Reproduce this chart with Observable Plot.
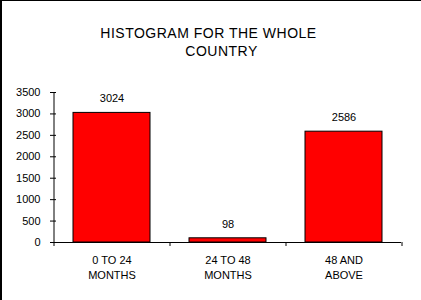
<!DOCTYPE html>
<html>
<head>
<meta charset="utf-8">
<script src="https://cdn.jsdelivr.net/npm/d3@7"></script>
<script src="https://cdn.jsdelivr.net/npm/@observablehq/plot@0.6"></script>
<style>
  html, body { margin: 0; padding: 0; background: #fff; }
  #wrap { position: relative; width: 421px; height: 300px; overflow: hidden; font-family: "Liberation Sans", Arial, sans-serif; }
  .title { position: absolute; transform: translate(-50%, -50%); font-size: 14px; letter-spacing: 0.5px; white-space: nowrap; color: #000; }
  #border { position: absolute; left: 0; top: 0; width: 421px; height: 300px; box-sizing: border-box; border-left: 2px solid #000; border-top: 1px solid #000; pointer-events: none; }
  svg { display: block; }
</style>
</head>
<body>
<div id="wrap">
  <div class="title" style="left:208.5px; top:33px;">HISTOGRAM FOR THE WHOLE</div>
  <div class="title" style="left:221.5px; top:51px;">COUNTRY</div>
  <div id="chart"></div>
  <div id="border"></div>
</div>
<script>
const categories = ["0 TO 24\nMONTHS", "24 TO 48\nMONTHS", "48 AND\nABOVE"];
const counts = [3024, 98, 2586];
const yTicks = [0, 500, 1000, 1500, 2000, 2500, 3000, 3500];

const data = categories.map((c, i) => ({category: c, count: counts[i]}));

const width = 421, height = 300;
const marginLeft = 53, marginRight = 20, marginTop = 92, marginBottom = 58;
const step = (width - marginLeft - marginRight) / categories.length;
const pad = 0.337;

const chart = Plot.plot({
  width, height, marginLeft, marginRight, marginTop, marginBottom,
  style: {fontFamily: "'Liberation Sans', Arial, sans-serif", fontSize: "11px", color: "#000", background: "transparent"},
  x: {domain: categories, paddingInner: pad, paddingOuter: pad / 2, axis: null, label: null},
  y: {domain: [0, 3500], axis: null, label: null},
  marks: [
    Plot.barY(data, {x: "category", y: "count", fill: "#ff0000", stroke: "#000", strokeWidth: 1}),
    // y axis line
    Plot.ruleX([categories[0]], {x: d => d, dx: -step / 2, y1: 0, y2: 3500, stroke: "#000"}),
    // x axis line
    Plot.ruleY([0], {stroke: "#000"}),
    // y ticks crossing the axis
    Plot.axisY({ticks: yTicks, tickSize: 6, dx: 3, text: null, label: null, stroke: "#000", strokeOpacity: 1}),
    // y tick labels
    Plot.axisY({ticks: yTicks, tickSize: 0, tickPadding: 13, label: null, tickFormat: d => String(d), fill: "#000", fontSize: 11}),
    // x boundary ticks
    Plot.axisX({ticks: categories, tickSize: 4, dx: -step / 2, text: null, label: null, stroke: "#000", strokeOpacity: 1}),
    Plot.axisX({ticks: [categories[categories.length - 1]], tickSize: 4, dx: step / 2, text: null, label: null, stroke: "#000", strokeOpacity: 1}),
    // x labels
    Plot.axisX({ticks: categories, tickSize: 0, tickPadding: 11, label: null, lineHeight: 1.36, fill: "#000", fontSize: 11}),
    // value labels
    Plot.text(data, {x: "category", y: "count", text: d => String(d.count), dy: -14, fill: "#000", fontSize: 11})
  ]
});
document.getElementById("chart").appendChild(chart);
</script>
</body>
</html>
